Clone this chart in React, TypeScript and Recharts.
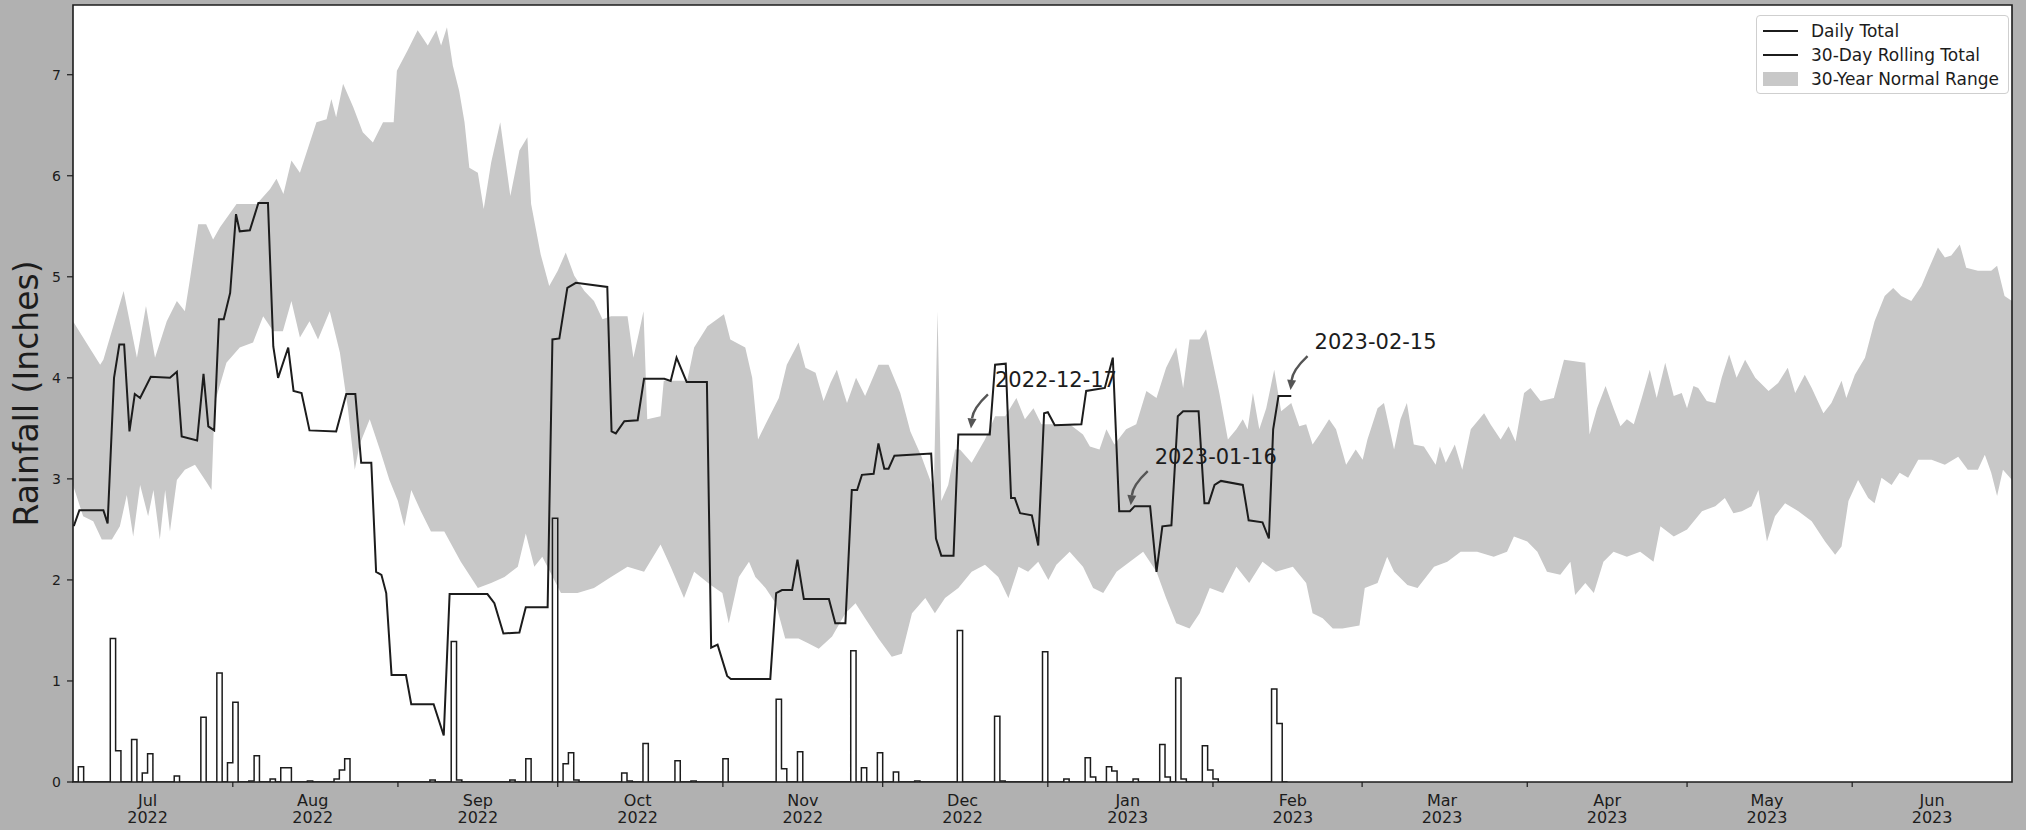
import React from "react";
import {
  ComposedChart,
  Area,
  Line,
  XAxis,
  YAxis,
  CartesianGrid,
  ReferenceArea,
  ReferenceDot,
} from "recharts";

// x values are days counted from 2022-07-01 (day 0)
const monthStartDays = [31, 62, 92, 123, 153, 184, 215, 243, 274, 304, 335];
const monthLabelDays = [15, 46, 77, 107, 138, 168, 199, 230, 258, 289, 319, 350];
const monthNames = ["Jul", "Aug", "Sep", "Oct", "Nov", "Dec", "Jan", "Feb", "Mar", "Apr", "May", "Jun"];
const monthYears = ["2022", "2022", "2022", "2022", "2022", "2022", "2023", "2023", "2023", "2023", "2023", "2023"];
const yTicks = [0, 1, 2, 3, 4, 5, 6, 7];

// daily rainfall, only the days that had rain (all other days read as 0)
const rainDays = [
  2, 8, 9, 12, 14, 15, 20, 25, 28, 30, 31, 34, 35, 38, 40, 41, 45, 50, 51, 52,
  68, 72, 73, 83, 86, 91, 93, 94, 95, 104, 105, 108, 114, 117, 123, 133, 134, 137, 147, 149,
  152, 155, 159, 167, 174, 175, 183, 187, 191, 192, 195, 196, 200, 205, 206, 208, 209, 213, 214, 215,
  226, 227,
];
const rainInches = [
  0.15, 1.42, 0.31, 0.42, 0.09, 0.28, 0.06, 0.64, 1.08, 0.19, 0.79, 0.01, 0.26, 0.03, 0.14, 0.14, 0.01, 0.03, 0.12, 0.23,
  0.02, 1.39, 0.02, 0.02, 0.23, 2.61, 0.18, 0.29, 0.02, 0.09, 0.01, 0.38, 0.21, 0.01, 0.23, 0.82, 0.13, 0.3, 1.3, 0.14,
  0.29, 0.1, 0.01, 1.5, 0.65, 0.01, 1.29, 0.03, 0.24, 0.05, 0.15, 0.11, 0.03, 0.37, 0.05, 1.03, 0.03, 0.36, 0.12, 0.03,
  0.92, 0.58,
];
const lastObservedDay = 229;

// 30-day rolling total, corners of the line [day, inches]
const rollingTotal: [number, number][] = [
  [1, 2.54], [1.2, 2.54], [2.2, 2.69], [6.7, 2.69], [7.5, 2.56], [8.7, 4.0], [9.7, 4.33], [10.6, 4.33],
  [11.6, 3.47], [12.6, 3.84], [13.6, 3.8], [15.6, 4.01], [19.2, 4.0], [20.5, 4.06], [21.4, 3.42], [24.3, 3.38],
  [25.5, 4.04], [26.4, 3.52], [27.5, 3.48], [28.4, 4.58], [29.3, 4.58], [30.5, 4.84], [31.6, 5.62], [32.3, 5.45],
  [34.2, 5.46], [35.8, 5.73], [37.6, 5.73], [38.6, 4.31], [39.5, 4.0], [41.4, 4.3], [42.4, 3.87], [43.9, 3.85],
  [45.4, 3.48], [50.4, 3.47], [52.3, 3.84], [54.0, 3.84], [55.1, 3.16], [57.0, 3.16], [57.9, 2.08], [58.9, 2.05],
  [59.8, 1.87], [60.8, 1.06], [63.5, 1.06], [64.5, 0.77], [68.7, 0.77], [70.6, 0.46], [71.7, 1.86], [78.8, 1.86],
  [80.1, 1.77], [81.8, 1.47], [84.8, 1.48], [86.0, 1.73], [90.1, 1.73], [91.0, 4.38], [92.3, 4.39], [93.8, 4.89],
  [95.4, 4.94], [101.3, 4.9], [102.1, 3.47], [102.9, 3.45], [104.5, 3.57], [107.0, 3.58], [108.2, 3.99], [112.0, 3.99],
  [113.2, 3.97], [114.3, 4.2], [116.2, 3.96], [120.0, 3.96], [120.8, 1.33], [122.0, 1.36], [123.8, 1.05], [124.5, 1.02],
  [131.9, 1.02], [133.0, 1.87], [134.1, 1.9], [136.0, 1.9], [137.0, 2.2], [138.2, 1.81], [142.9, 1.81], [144.1, 1.57],
  [146.0, 1.57], [147.2, 2.89], [148.2, 2.89], [149.1, 3.04], [151.3, 3.05], [152.2, 3.35], [153.3, 3.1], [154.1, 3.1],
  [155.2, 3.23], [162.1, 3.25], [163.0, 2.41], [164.0, 2.24], [166.3, 2.24], [167.2, 3.44], [173.1, 3.44], [174.1, 4.13],
  [176.1, 4.14], [177.1, 2.81], [177.8, 2.81], [178.8, 2.66], [181.0, 2.64], [182.2, 2.34], [183.3, 3.65], [184.0, 3.66],
  [185.3, 3.53], [190.3, 3.54], [191.2, 3.87], [194.7, 3.9], [196.2, 4.2], [197.4, 2.68], [199.4, 2.68], [200.3, 2.73],
  [203.2, 2.73], [204.4, 2.08], [205.5, 2.53], [207.2, 2.54], [208.4, 3.62], [209.4, 3.67], [212.3, 3.67], [213.4, 2.76],
  [214.2, 2.76], [215.3, 2.94], [216.5, 2.98], [220.6, 2.94], [221.7, 2.59], [224.3, 2.57], [225.5, 2.41], [226.3, 3.49],
  [227.3, 3.82], [229.7, 3.82],
];

// 30-year normal range, upper edge [day, inches]
const normalHigh: [number, number][] = [
  [1, 4.56], [2.9, 4.4], [6.1, 4.13], [6.7, 4.18], [10.5, 4.86], [13.0, 4.2], [14.7, 4.71], [16.4, 4.2], [18.6, 4.56],
  [20.5, 4.76], [22.0, 4.66], [23.0, 4.99], [24.5, 5.52], [26.0, 5.52], [27.3, 5.37], [28.6, 5.49], [31.7, 5.72],
  [35.5, 5.72], [38.0, 5.87], [39.2, 5.97], [40.5, 5.82], [42.0, 6.15], [43.6, 6.03], [46.7, 6.53], [48.6, 6.56],
  [49.5, 6.76], [50.4, 6.58], [51.7, 6.91], [53.6, 6.68], [55.4, 6.43], [57.3, 6.33], [59.2, 6.53], [61.2, 6.53],
  [61.8, 7.04], [63.8, 7.24], [65.7, 7.44], [67.6, 7.29], [69.2, 7.44], [70.1, 7.29], [71.2, 7.47], [72.3, 7.09],
  [73.5, 6.84], [74.5, 6.53], [75.4, 6.08], [77.0, 6.03], [78.1, 5.67], [79.5, 6.13], [81.2, 6.53], [83.1, 5.8],
  [84.8, 6.25], [86.3, 6.38], [87.0, 5.72], [88.8, 5.22], [90.4, 4.91], [92.0, 5.06], [93.5, 5.24], [95.1, 5.01],
  [97.0, 4.86], [98.8, 4.76], [100.4, 4.58], [102.0, 4.61], [105.1, 4.61], [106.2, 4.2], [107.3, 4.46], [108.1, 4.66],
  [108.8, 3.59], [111.3, 3.62], [111.9, 3.97], [116.3, 3.97], [117.6, 4.3], [120.1, 4.51], [123.2, 4.63], [124.4, 4.38],
  [127.2, 4.3], [128.5, 4.0], [129.6, 3.39], [131.0, 3.54], [133.5, 3.8], [135.0, 4.13], [137.2, 4.35], [138.5, 4.1],
  [140.4, 4.05], [141.9, 3.77], [143.2, 3.95], [144.4, 4.08], [145.7, 3.85], [146.3, 3.75], [148.0, 4.0], [149.7, 3.82],
  [152.2, 4.13], [154.1, 4.13], [156.3, 3.85], [158.2, 3.47], [160.3, 3.22], [162.6, 2.89], [163.3, 4.66], [164.0, 2.78],
  [165.3, 2.94], [166.6, 3.29], [167.5, 3.29], [169.7, 3.16], [172.2, 3.39], [174.1, 3.62], [176.0, 3.62], [178.1, 3.8],
  [179.7, 3.59], [181.3, 3.7], [182.8, 3.54], [185.6, 3.54], [188.1, 3.54], [190.6, 3.44], [191.9, 3.32], [193.7, 3.29],
  [195.0, 3.49], [196.5, 3.34], [198.7, 3.49], [200.6, 3.54], [202.5, 3.87], [204.4, 3.8], [206.2, 4.1], [208.1, 4.3],
  [209.4, 3.9], [210.6, 4.38], [212.5, 4.38], [213.7, 4.48], [215.0, 4.15], [216.2, 3.85], [217.8, 3.39], [219.4, 3.49],
  [220.6, 3.59], [221.5, 3.49], [222.5, 3.85], [223.7, 3.49], [225.0, 3.7], [226.5, 4.08], [227.8, 3.67], [229.7, 3.75],
  [231.2, 3.52], [232.5, 3.54], [233.7, 3.34], [235.0, 3.44], [236.8, 3.59], [238.1, 3.49], [240.0, 3.14], [241.8, 3.29],
  [243.1, 3.19], [244.0, 3.39], [245.9, 3.7], [247.1, 3.75], [249.0, 3.29], [250.2, 3.59], [251.4, 3.75], [252.7, 3.34],
  [254.6, 3.32], [256.8, 3.14], [257.6, 3.32], [258.7, 3.16], [260.4, 3.34], [261.8, 3.09], [263.4, 3.49], [265.9, 3.65],
  [267.1, 3.54], [269.0, 3.39], [270.5, 3.52], [271.8, 3.37], [273.4, 3.85], [274.6, 3.9], [276.5, 3.77], [279.0, 3.8],
  [280.9, 4.18], [284.9, 4.15], [285.7, 3.44], [287.1, 3.7], [288.7, 3.92], [290.2, 3.7], [291.5, 3.52], [292.7, 3.59],
  [294.0, 3.54], [295.5, 3.8], [297.0, 4.08], [298.3, 3.8], [299.9, 4.15], [301.5, 3.82], [303.0, 3.85], [304.0, 3.7],
  [305.2, 3.92], [306.1, 3.9], [307.7, 3.77], [309.3, 3.75], [310.5, 4.0], [311.9, 4.23], [313.3, 4.0], [314.9, 4.18],
  [316.8, 4.0], [319.3, 3.87], [321.1, 3.95], [322.9, 4.1], [324.3, 3.85], [326.1, 4.03], [327.4, 3.9], [329.6, 3.65],
  [331.1, 3.75], [333.0, 3.97], [333.9, 3.8], [335.5, 4.03], [337.4, 4.2], [339.2, 4.56], [341.1, 4.81], [342.7, 4.89],
  [344.2, 4.81], [346.1, 4.76], [348.0, 4.91], [349.2, 5.06], [351.1, 5.29], [352.4, 5.19], [353.6, 5.21], [355.2, 5.32],
  [356.4, 5.09], [358.6, 5.06], [361.1, 5.06], [362.2, 5.11], [363.6, 4.81], [365, 4.76],
];

// 30-year normal range, lower edge [day, inches]
const normalLow: [number, number][] = [
  [1, 2.94], [2.9, 2.63], [4.8, 2.58], [6.4, 2.4], [8.3, 2.4], [9.8, 2.53], [11.1, 2.84], [12.3, 2.43], [13.6, 2.94],
  [15.1, 2.63], [16.1, 2.89], [17.3, 2.4], [18.3, 2.89], [19.2, 2.48], [20.5, 2.99], [22.0, 3.09], [23.9, 3.14],
  [25.8, 2.99], [27.0, 2.89], [27.6, 3.75], [29.8, 4.15], [32.3, 4.3], [34.8, 4.35], [36.7, 4.61], [38.6, 4.46],
  [40.4, 4.46], [42.0, 4.76], [43.6, 4.4], [45.4, 4.56], [47.0, 4.38], [49.2, 4.66], [51.1, 4.25], [52.6, 3.7],
  [53.9, 3.09], [54.8, 3.34], [56.7, 3.59], [58.6, 3.29], [60.4, 2.99], [62.0, 2.78], [63.2, 2.53], [64.5, 2.89],
  [66.3, 2.68], [68.2, 2.48], [70.7, 2.48], [73.8, 2.18], [77.0, 1.92], [79.5, 1.97], [82.0, 2.03], [84.5, 2.13],
  [86.0, 2.46], [87.6, 2.13], [89.1, 2.23], [92.6, 1.87], [95.7, 1.87], [98.8, 1.92], [102.0, 2.03], [105.1, 2.13],
  [108.2, 2.08], [111.3, 2.35], [113.2, 2.13], [115.7, 1.82], [117.6, 2.08], [120.7, 1.95], [122.9, 1.87], [124.1, 1.57],
  [126.0, 2.03], [127.9, 2.18], [129.1, 2.03], [131.0, 1.92], [132.9, 1.77], [134.7, 1.42], [137.2, 1.42], [139.1, 1.37],
  [141.0, 1.32], [143.5, 1.44], [146.0, 1.67], [147.9, 1.77], [149.7, 1.62], [152.2, 1.42], [154.7, 1.24], [156.6, 1.27],
  [158.5, 1.67], [161.0, 1.82], [162.8, 1.67], [164.7, 1.82], [167.2, 1.92], [169.7, 2.08], [172.2, 2.15], [174.7, 2.03],
  [176.6, 1.82], [178.5, 2.13], [180.3, 2.08], [182.2, 2.18], [184.1, 2.0], [185.6, 2.15], [188.1, 2.28], [190.6, 2.13],
  [192.5, 1.92], [194.4, 1.87], [196.9, 2.08], [199.4, 2.18], [201.9, 2.28], [204.4, 2.08], [206.2, 1.82], [208.1, 1.57],
  [210.6, 1.52], [212.5, 1.67], [214.4, 1.92], [216.9, 1.87], [219.4, 2.13], [221.8, 1.97], [224.3, 2.18], [226.8, 2.08],
  [230.0, 2.13], [232.5, 1.97], [233.7, 1.67], [235.6, 1.62], [237.5, 1.52], [239.3, 1.52], [242.5, 1.55], [243.5, 1.92],
  [245.9, 1.97], [247.7, 2.23], [249.0, 2.08], [251.5, 1.95], [253.4, 1.92], [256.5, 2.13], [259.0, 2.18], [261.5, 2.28],
  [264.6, 2.28], [267.7, 2.23], [270.2, 2.28], [271.5, 2.43], [274.0, 2.38], [275.9, 2.28], [277.7, 2.08], [280.2, 2.05],
  [282.1, 2.18], [283.0, 1.85], [284.9, 1.97], [286.5, 1.87], [288.3, 2.18], [290.2, 2.28], [292.7, 2.23], [295.2, 2.28],
  [297.7, 2.18], [299.0, 2.53], [301.5, 2.43], [304.0, 2.5], [306.8, 2.68], [309.3, 2.73], [311.1, 2.81], [312.7, 2.66],
  [314.3, 2.68], [316.1, 2.73], [317.4, 2.89], [319.0, 2.38], [320.5, 2.63], [322.4, 2.76], [324.9, 2.68], [327.4, 2.58],
  [329.9, 2.38], [331.8, 2.25], [333.0, 2.33], [334.3, 2.78], [336.1, 2.99], [338.0, 2.81], [339.2, 2.76], [340.5, 3.01],
  [342.4, 2.94], [343.9, 3.06], [345.5, 3.01], [347.4, 3.19], [349.9, 3.19], [352.4, 3.14], [354.9, 3.22], [356.7, 3.09],
  [358.6, 3.09], [359.9, 3.24], [361.1, 3.06], [362.2, 2.83], [363.3, 3.09], [365, 2.99],
];

const annotationDays = [169, 199, 229];
const annotationInches = [3.44, 2.68, 3.82];
const annotationLabels = ["2022-12-17", "2023-01-16", "2023-02-15"];

const legendLabels = ["Daily Total", "30-Day Rolling Total", "30-Year Normal Range"];

const FONT = '"DejaVu Sans", Verdana, sans-serif';
const INK = "#1c1c1c";
const BAND = "#c8c8c8";
const PAGE = "#b1b1b1";
const ARROW = "#555555";

type Row = { x: number; hi?: number; lo?: number; roll?: number; daily?: number };

function buildTable(): Row[] {
  const rows = new Map<number, Row>();
  const put = (x: number, key: keyof Row, v: number) => {
    const r = rows.get(x) ?? { x };
    (r as any)[key] = v;
    rows.set(x, r);
  };
  normalHigh.forEach(([d, v]) => put(d, "hi", v));
  normalLow.forEach(([d, v]) => put(d, "lo", v));
  rollingTotal.forEach(([d, v]) => put(d, "roll", v));
  const rain = new Map<number, number>();
  rainDays.forEach((d, i) => rain.set(d, rainInches[i]));
  for (let d = 1; d <= lastObservedDay; d++) put(d, "daily", rain.get(d) ?? 0);
  return [...rows.values()].sort((a, b) => a.x - b.x);
}

const table = buildTable();

function MonthTick(props: any) {
  const { x, y, payload } = props;
  const i = monthLabelDays.indexOf(payload.value);
  if (i < 0) {
    return <line x1={x} x2={x} y1={y} y2={y + 5} stroke={INK} strokeWidth={1.2} />;
  }
  return (
    <text textAnchor="middle" fontFamily={FONT} fontSize={16} fill={INK}>
      <tspan x={x} y={y + 24}>{monthNames[i]}</tspan>
      <tspan x={x} y={y + 41}>{monthYears[i]}</tspan>
    </text>
  );
}

function Callout(props: any) {
  const { cx, cy, text } = props;
  if (cx == null || cy == null) return null;
  const tx = cx + 20, ty = cy - 40;
  const hx = cx + 3, hy = cy - 6;
  const dx = hx - tx, dy = hy - ty;
  const len = Math.hypot(dx, dy);
  const qx = (tx + hx) / 2 - (dy / len) * 7;
  const qy = (ty + hy) / 2 + (dx / len) * 7;
  const ux = hx - qx, uy = hy - qy;
  const ul = Math.hypot(ux, uy);
  const ex = ux / ul, ey = uy / ul;
  const bx = hx - ex * 10, by = hy - ey * 10;
  const head = `${hx},${hy} ${bx - ey * 4.5},${by + ex * 4.5} ${bx + ey * 4.5},${by - ex * 4.5}`;
  return (
    <g>
      <path d={`M${tx},${ty} Q${qx},${qy} ${bx},${by}`} stroke={ARROW} strokeWidth={2.4} fill="none" />
      <polygon points={head} fill={ARROW} />
      <text x={cx + 27} y={cy - 47} fontFamily={FONT} fontSize={21} fill={INK}>
        {text}
      </text>
    </g>
  );
}

function YLabel(props: any) {
  const vb = props.viewBox ?? {};
  const cy = vb.y != null && vb.height != null ? vb.y + vb.height / 2 : 393;
  return (
    <text
      x={26}
      y={cy}
      transform={`rotate(-90 26 ${cy})`}
      textAnchor="middle"
      dominantBaseline="central"
      fontFamily={FONT}
      fontSize={33}
      fill={INK}
    >
      Rainfall (Inches)
    </text>
  );
}

export default function App() {
  return (
    <div
      style={{
        position: "absolute",
        left: 0,
        top: 0,
        width: 2026,
        height: 830,
        background: PAGE,
        overflow: "hidden",
        fontFamily: FONT,
      }}
    >
      <ComposedChart
        width={2026}
        height={830}
        data={table}
        margin={{ top: 5, right: 14, bottom: 0, left: 0 }}
      >
        <CartesianGrid horizontal={false} vertical={false} fill="#ffffff" fillOpacity={1} />
        <XAxis
          type="number"
          dataKey="x"
          domain={[1, 365]}
          allowDataOverflow
          ticks={[...monthStartDays, ...monthLabelDays].sort((a, b) => a - b)}
          interval={0}
          tick={<MonthTick />}
          tickLine={false}
          tickSize={0}
          tickMargin={0}
          axisLine={false}
          height={48}
        />
        <YAxis
          type="number"
          domain={[0, 7.69]}
          allowDataOverflow
          ticks={yTicks}
          interval={0}
          width={73}
          tickSize={6}
          tickMargin={6}
          tickLine={{ stroke: INK, strokeWidth: 1.2 }}
          axisLine={false}
          tick={{ fontFamily: FONT, fontSize: 14, fill: INK }}
          label={{ content: (p: any) => <YLabel {...p} /> }}
        />
        <Area
          dataKey="hi"
          type="linear"
          stroke="none"
          fill={BAND}
          fillOpacity={1}
          connectNulls
          dot={false}
          activeDot={false}
          isAnimationActive={false}
        />
        <Area
          dataKey="lo"
          type="linear"
          stroke="none"
          fill="#ffffff"
          fillOpacity={1}
          connectNulls
          dot={false}
          activeDot={false}
          isAnimationActive={false}
        />
        <Line
          dataKey="daily"
          type="stepAfter"
          stroke={INK}
          strokeWidth={1.5}
          connectNulls
          dot={false}
          activeDot={false}
          isAnimationActive={false}
        />
        <Line
          dataKey="roll"
          type="linear"
          stroke={INK}
          strokeWidth={2}
          connectNulls
          dot={false}
          activeDot={false}
          isAnimationActive={false}
        />
        <ReferenceArea
          x1={1}
          x2={365}
          y1={0}
          y2={7.69}
          fill="none"
          stroke={INK}
          strokeWidth={1.6}
          ifOverflow="visible"
        />
        {annotationDays.map((d, i) => (
          <ReferenceDot
            key={annotationLabels[i]}
            x={d}
            y={annotationInches[i]}
            r={0}
            ifOverflow="visible"
            shape={(p: any) => <Callout {...p} text={annotationLabels[i]} />}
          />
        ))}
      </ComposedChart>

      <div
        style={{
          position: "absolute",
          left: 1756,
          top: 15,
          width: 253,
          height: 79,
          boxSizing: "border-box",
          border: "1px solid #cfcfcf",
          borderRadius: 4,
          background: "#ffffff",
          fontSize: 17,
          color: INK,
        }}
      >
        {legendLabels.map((label, i) => (
          <div
            key={label}
            style={{
              position: "absolute",
              left: 6,
              top: 3 + i * 24,
              height: 24,
              display: "flex",
              alignItems: "center",
              whiteSpace: "nowrap",
            }}
          >
            <div
              style={{
                width: 35,
                height: i < 2 ? 2 : 14,
                background: i < 2 ? INK : BAND,
                marginRight: 13,
              }}
            />
            <span>{label}</span>
          </div>
        ))}
      </div>
    </div>
  );
}
